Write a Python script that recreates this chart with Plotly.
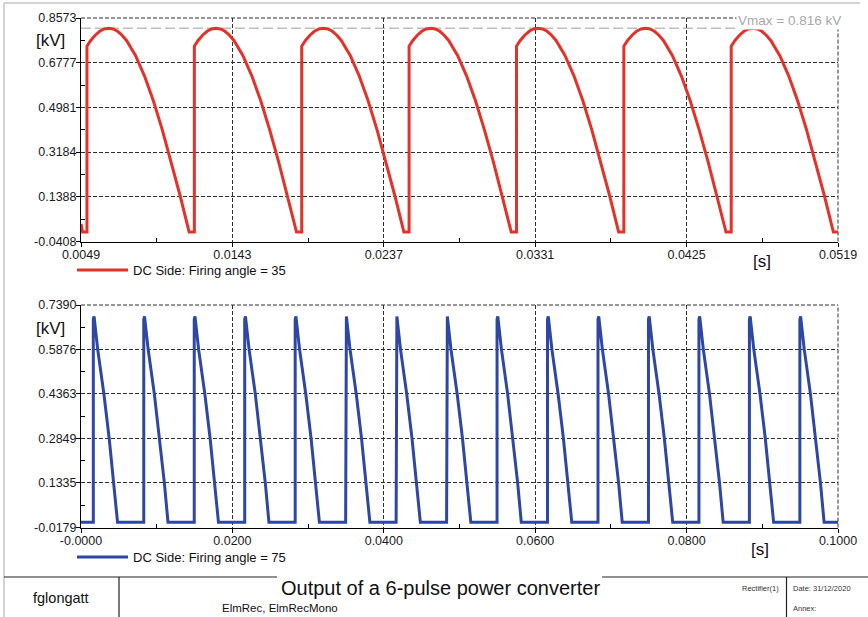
import plotly.graph_objects as go

# ---------------- data ----------------
# Top panel: DC side voltage, firing angle = 35  (time in s, voltage in kV)
dc35_t = [
    0.004900, 0.005000,
    0.005270, 0.005270, 0.005503, 0.005781, 0.006059, 0.006337, 0.006614, 0.006892, 0.007170, 0.007448, 0.007726, 0.008281, 0.008837, 0.009392, 0.009948, 0.010503, 0.011059, 0.011614,
    0.011937, 0.011937, 0.012170, 0.012448, 0.012726, 0.013004, 0.013281, 0.013559, 0.013837, 0.014115, 0.014393, 0.014948, 0.015504, 0.016059, 0.016615, 0.017170, 0.017726, 0.018281,
    0.018603, 0.018603, 0.018836, 0.019114, 0.019392, 0.019670, 0.019947, 0.020225, 0.020503, 0.020781, 0.021059, 0.021614, 0.022170, 0.022725, 0.023281, 0.023836, 0.024392, 0.024947,
    0.025270, 0.025270, 0.025503, 0.025781, 0.026059, 0.026337, 0.026614, 0.026892, 0.027170, 0.027448, 0.027726, 0.028281, 0.028837, 0.029392, 0.029948, 0.030503, 0.031059, 0.031614,
    0.031937, 0.031937, 0.032170, 0.032448, 0.032726, 0.033004, 0.033281, 0.033559, 0.033837, 0.034115, 0.034393, 0.034948, 0.035504, 0.036059, 0.036615, 0.037170, 0.037726, 0.038281,
    0.038603, 0.038603, 0.038836, 0.039114, 0.039392, 0.039670, 0.039947, 0.040225, 0.040503, 0.040781, 0.041059, 0.041614, 0.042170, 0.042725, 0.043281, 0.043836, 0.044392, 0.044947,
    0.045270, 0.045270, 0.045503, 0.045781, 0.046059, 0.046337, 0.046614, 0.046892, 0.047170, 0.047448, 0.047726, 0.048281, 0.048837, 0.049392, 0.049948, 0.050503, 0.051059, 0.051614,
    0.051900,
]
dc35_v = [
    0.030, -0.003,
    -0.003, 0.744, 0.767, 0.788, 0.804, 0.813, 0.816, 0.813, 0.804, 0.788, 0.767, 0.707, 0.625, 0.525, 0.408, 0.279, 0.142, -0.003,
    -0.003, 0.744, 0.767, 0.788, 0.804, 0.813, 0.816, 0.813, 0.804, 0.788, 0.767, 0.707, 0.625, 0.525, 0.408, 0.279, 0.142, -0.003,
    -0.003, 0.744, 0.767, 0.788, 0.804, 0.813, 0.816, 0.813, 0.804, 0.788, 0.767, 0.707, 0.625, 0.525, 0.408, 0.279, 0.142, -0.003,
    -0.003, 0.744, 0.767, 0.788, 0.804, 0.813, 0.816, 0.813, 0.804, 0.788, 0.767, 0.707, 0.625, 0.525, 0.408, 0.279, 0.142, -0.003,
    -0.003, 0.744, 0.767, 0.788, 0.804, 0.813, 0.816, 0.813, 0.804, 0.788, 0.767, 0.707, 0.625, 0.525, 0.408, 0.279, 0.142, -0.003,
    -0.003, 0.744, 0.767, 0.788, 0.804, 0.813, 0.816, 0.813, 0.804, 0.788, 0.767, 0.707, 0.625, 0.525, 0.408, 0.279, 0.142, -0.003,
    -0.003, 0.744, 0.767, 0.788, 0.804, 0.813, 0.816, 0.813, 0.804, 0.788, 0.767, 0.707, 0.625, 0.525, 0.408, 0.279, 0.142, -0.003,
    -0.003,
]

# Bottom panel: DC side voltage, firing angle = 75
dc75_t = [
    0.000000,
    0.001625, 0.001625, 0.001725, 0.002205, 0.003025, 0.003725, 0.004345, 0.004825,
    0.008292, 0.008292, 0.008392, 0.008872, 0.009692, 0.010392, 0.011012, 0.011492,
    0.014959, 0.014959, 0.015059, 0.015539, 0.016359, 0.017059, 0.017679, 0.018159,
    0.021626, 0.021626, 0.021726, 0.022206, 0.023026, 0.023726, 0.024346, 0.024826,
    0.028293, 0.028293, 0.028393, 0.028873, 0.029693, 0.030393, 0.031013, 0.031493,
    0.034960, 0.034960, 0.035060, 0.035540, 0.036360, 0.037060, 0.037680, 0.038160,
    0.041627, 0.041627, 0.041727, 0.042207, 0.043027, 0.043727, 0.044347, 0.044827,
    0.048294, 0.048294, 0.048394, 0.048874, 0.049694, 0.050394, 0.051014, 0.051494,
    0.054961, 0.054961, 0.055061, 0.055541, 0.056361, 0.057061, 0.057681, 0.058161,
    0.061628, 0.061628, 0.061728, 0.062208, 0.063028, 0.063728, 0.064348, 0.064828,
    0.068295, 0.068295, 0.068395, 0.068875, 0.069695, 0.070395, 0.071015, 0.071495,
    0.074962, 0.074962, 0.075062, 0.075542, 0.076362, 0.077062, 0.077682, 0.078162,
    0.081629, 0.081629, 0.081729, 0.082209, 0.083029, 0.083729, 0.084349, 0.084829,
    0.088296, 0.088296, 0.088396, 0.088876, 0.089696, 0.090396, 0.091016, 0.091496,
    0.094963, 0.094963, 0.095063, 0.095543, 0.096363, 0.097063, 0.097683, 0.098163,
    0.100000,
]
dc75_v = [
    0.000,
    0.000, 0.690, 0.700, 0.588, 0.436, 0.285, 0.134, 0.000,
    0.000, 0.690, 0.700, 0.588, 0.436, 0.285, 0.134, 0.000,
    0.000, 0.690, 0.700, 0.588, 0.436, 0.285, 0.134, 0.000,
    0.000, 0.690, 0.700, 0.588, 0.436, 0.285, 0.134, 0.000,
    0.000, 0.690, 0.700, 0.588, 0.436, 0.285, 0.134, 0.000,
    0.000, 0.690, 0.700, 0.588, 0.436, 0.285, 0.134, 0.000,
    0.000, 0.690, 0.700, 0.588, 0.436, 0.285, 0.134, 0.000,
    0.000, 0.690, 0.700, 0.588, 0.436, 0.285, 0.134, 0.000,
    0.000, 0.690, 0.700, 0.588, 0.436, 0.285, 0.134, 0.000,
    0.000, 0.690, 0.700, 0.588, 0.436, 0.285, 0.134, 0.000,
    0.000, 0.690, 0.700, 0.588, 0.436, 0.285, 0.134, 0.000,
    0.000, 0.690, 0.700, 0.588, 0.436, 0.285, 0.134, 0.000,
    0.000, 0.690, 0.700, 0.588, 0.436, 0.285, 0.134, 0.000,
    0.000, 0.690, 0.700, 0.588, 0.436, 0.285, 0.134, 0.000,
    0.000, 0.690, 0.700, 0.588, 0.436, 0.285, 0.134, 0.000,
    0.000,
]

vmax_35 = 0.816

# tick values / labels
top_x_ticks = [0.0049, 0.0143, 0.0237, 0.0331, 0.0425, 0.0519]
top_x_labels = ["0.0049", "0.0143", "0.0237", "0.0331", "0.0425", "0.0519"]
top_y_ticks = [-0.0408, 0.1388, 0.3184, 0.4981, 0.6777, 0.8573]
top_y_labels = ["-0.0408", "0.1388", "0.3184", "0.4981", "0.6777", "0.8573"]
bot_x_ticks = [0.0, 0.02, 0.04, 0.06, 0.08, 0.10]
bot_x_labels = ["-0.0000", "0.0200", "0.0400", "0.0600", "0.0800", "0.1000"]
bot_y_ticks = [-0.0179, 0.1335, 0.2849, 0.4363, 0.5876, 0.7390]
bot_y_labels = ["-0.0179", "0.1335", "0.2849", "0.4363", "0.5876", "0.7390"]

name_35 = "DC Side: Firing angle = 35"
name_75 = "DC Side: Firing angle = 75"
title_text = "Output of a 6-pulse power converter"

# ---------------- figure ----------------
W, H = 868, 617
FONT = "Liberation Sans, Arial, Helvetica, sans-serif"
RED = "#E2322A"
BLUE = "#2E46A4"
GRID = "#303030"


def px(x):
    return x / W


def py(y):
    return 1 - y / H


def mids(v):
    return [(a + b) / 2 for a, b in zip(v[:-1], v[1:])]


fig = go.Figure()
fig.add_trace(go.Scatter(x=dc35_t, y=dc35_v, mode="lines", name=name_35,
                         line=dict(color=RED, width=3), xaxis="x", yaxis="y",
                         legend="legend"))
fig.add_trace(go.Scatter(x=dc75_t, y=dc75_v, mode="lines", name=name_75,
                         line=dict(color=BLUE, width=3), xaxis="x2", yaxis="y2",
                         legend="legend2"))


def axis(ticks, labels, rng, domain, anchor):
    return dict(
        range=rng, domain=domain, anchor=anchor,
        tickmode="array", tickvals=ticks, ticktext=labels,
        showline=True, linecolor="black", linewidth=1,
        ticks="outside", ticklen=4, tickcolor="black", tickwidth=1,
        ticklabelstandoff=-3,
        showgrid=True, gridcolor=GRID, gridwidth=1, griddash="4px,2px",
        zeroline=False,
        tickfont=dict(family=FONT, size=12.5, color="#1a1a1a"),
        minor=dict(tickmode="array", tickvals=mids(ticks), ticks="inside",
                   ticklen=4, tickcolor="black", showgrid=False),
        fixedrange=True,
    )


xdom = [px(81), px(838)]
top_dom = [py(241.5), py(18)]
bot_dom = [py(527.5), py(305)]

legend_common = dict(
    xanchor="left", yanchor="middle", itemwidth=51,
    bgcolor="rgba(0,0,0,0)", borderwidth=0,
    font=dict(family=FONT, size=13, color="#111111"),
)

shapes = []
# dashed top / right frame edges for both panels
for xr, yr in (("x", "y"), ("x2", "y2")):
    shapes.append(dict(type="line", xref=f"{xr} domain", yref=f"{yr} domain",
                       x0=0, x1=1, y0=1, y1=1, layer="below",
                       line=dict(color=GRID, width=1, dash="4px,2px")))
    shapes.append(dict(type="line", xref=f"{xr} domain", yref=f"{yr} domain",
                       x0=1, x1=1, y0=0, y1=1, layer="below",
                       line=dict(color=GRID, width=1, dash="4px,2px")))
# Vmax reference line
shapes.append(dict(type="line", xref="x domain", yref="y", x0=0, x1=1,
                   y0=vmax_35, y1=vmax_35, layer="below",
                   line=dict(color="#BDBDBD", width=1.5, dash="10px,4px")))
# outer frame (light gray)
frame = "#C4C4C4"
shapes.append(dict(type="line", xref="paper", yref="paper", x0=px(4), x1=px(4),
                   y0=py(3), y1=0, line=dict(color=frame, width=1.5)))
shapes.append(dict(type="line", xref="paper", yref="paper", x0=px(4), x1=px(860),
                   y0=py(3), y1=py(3), line=dict(color=frame, width=1.5)))
# footer table lines
dark = "#222222"
shapes.append(dict(type="line", xref="paper", yref="paper", x0=px(4), x1=px(277),
                   y0=py(577), y1=py(577), line=dict(color=dark, width=1.2)))
shapes.append(dict(type="line", xref="paper", yref="paper", x0=px(602), x1=1,
                   y0=py(577), y1=py(577), line=dict(color=dark, width=1.2)))
shapes.append(dict(type="line", xref="paper", yref="paper", x0=px(119), x1=px(119),
                   y0=py(577), y1=0, line=dict(color=dark, width=1.2)))
shapes.append(dict(type="line", xref="paper", yref="paper", x0=px(786.5), x1=px(786.5),
                   y0=py(577), y1=0, line=dict(color=dark, width=1.2)))


def ann(text, x, y, size, xanchor="center", color="#111111", **kw):
    d = dict(text=text, xref="paper", yref="paper", x=px(x), y=py(y),
             xanchor=xanchor, yanchor="middle", showarrow=False,
             font=dict(family=FONT, size=size, color=color))
    d.update(kw)
    return d


annotations = [
    ann("[kV]", 67, 41, 17, xanchor="right"),
    ann("[kV]", 67, 328, 17, xanchor="right"),
    ann("[s]", 762, 262, 17),
    ann("[s]", 760, 549, 17),
    ann("Vmax = 0.816 kV", 736, 21, 13.5, xanchor="left", color="#A8A8A8",
        bgcolor="white", borderpad=1),
    ann(title_text, 440, 588, 20),
    ann("fglongatt", 61, 598, 14.5),
    ann("ElmRec, ElmRecMono", 220, 608, 11.5, xanchor="left"),
    ann("Rectifier(1)", 781, 588, 7.5, xanchor="right", color="#333333"),
    ann("Date: 31/12/2020", 791, 588, 7.5, xanchor="left", color="#333333"),
    ann("Annex:", 791, 608, 7.5, xanchor="left", color="#333333"),
]

fig.update_layout(
    width=W, height=H,
    margin=dict(l=0, r=0, t=0, b=0, pad=0),
    paper_bgcolor="white", plot_bgcolor="white",
    template=None,
    font=dict(family=FONT, size=12, color="#111111"),
    xaxis=axis(top_x_ticks, top_x_labels, [0.0049, 0.0519], xdom, "y"),
    yaxis=axis(top_y_ticks, top_y_labels, [-0.0408, 0.8573], top_dom, "x"),
    xaxis2=axis(bot_x_ticks, bot_x_labels, [0.0, 0.1], xdom, "y2"),
    yaxis2=axis(bot_y_ticks, bot_y_labels, [-0.0179, 0.7390], bot_dom, "x2"),
    legend=dict(x=px(72), y=py(270), **legend_common),
    legend2=dict(x=px(72), y=py(557), **legend_common),
    showlegend=True,
    shapes=shapes,
    annotations=annotations,
)

fig.write_html(
    "out.html",
    config={"displayModeBar": False},
    post_script="document.body.style.margin='0px';document.body.style.padding='0px';document.body.style.overflow='hidden';",
)
